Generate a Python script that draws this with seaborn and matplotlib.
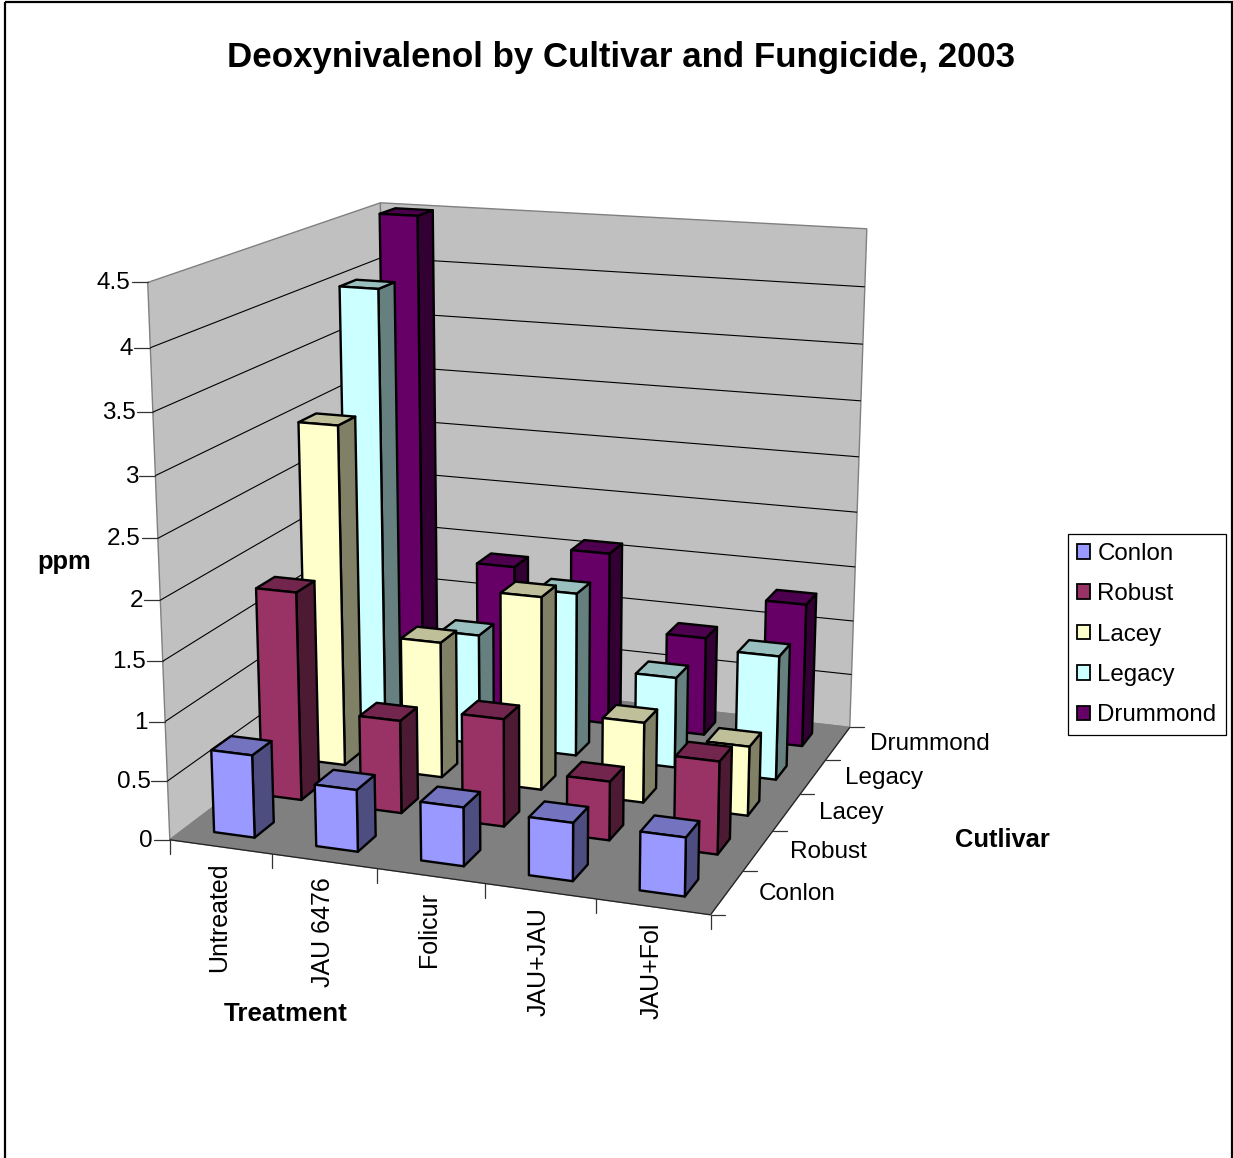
import numpy as np
import matplotlib
matplotlib.use("Agg")
import matplotlib.pyplot as plt
from matplotlib.patches import Polygon, Rectangle
import seaborn as sns

treatments = ["Untreated", "JAU 6476", "Folicur", "JAU+JAU", "JAU+Fol"]
cultivars = ["Conlon", "Robust", "Lacey", "Legacy", "Drummond"]
conlon = [0.70, 0.52, 0.49, 0.48, 0.48]
robust = [1.80, 0.80, 0.92, 0.50, 0.78]
lacey = [3.00, 1.20, 1.69, 0.70, 0.60]
legacy = [4.00, 1.00, 1.47, 0.81, 1.10]
drummond = [4.50, 1.38, 1.59, 0.90, 1.30]
series = [conlon, robust, lacey, legacy, drummond]
colors = ["#9999FF", "#993366", "#FFFFCC", "#CCFFFF", "#660066"]
z_ticks = [0, 0.5, 1, 1.5, 2, 2.5, 3, 3.5, 4, 4.5]
z_max = 4.5

sns.set_theme(style="white", font="Liberation Sans")
palette = sns.color_palette(colors)

W, H = 1233, 1158
fig = plt.figure(figsize=(W / 100, H / 100), dpi=100, facecolor="white")
ax = fig.add_axes([0, 0, 1, 1])
ax.set_xlim(0, W)
ax.set_ylim(H, 0)
ax.axis("off")

# Perspective camera solved from the plot box corners (data space -> canvas).
nx, ny = len(treatments), len(cultivars)
anchors = [
    ((0, 0, 0), (170, 840)),
    ((nx, 0, 0), (710, 915)),
    ((nx, ny, 0), (850, 727)),
    ((nx, ny, z_max), (867, 229)),
    ((0, ny, z_max), (380, 203)),
    ((0, 0, z_max), (148, 282)),
]
rows = []
rhs = []
for (x, y, z), (u, v) in anchors:
    rows.append([x, y, z, 1, 0, 0, 0, 0, -u * x, -u * y, -u * z])
    rows.append([0, 0, 0, 0, x, y, z, 1, -v * x, -v * y, -v * z])
    rhs += [u, v]
cam = np.linalg.lstsq(np.array(rows, float), np.array(rhs, float), rcond=None)[0]
cam = np.append(cam, 1.0).reshape(3, 4)


def project(x, y, z):
    p = cam @ np.array([x, y, z, 1.0])
    return p[0] / p[2], p[1] / p[2]


def quad(points, **kw):
    ax.add_patch(Polygon([project(*p) for p in points], closed=True, **kw))


def seg(a, b, **kw):
    ua, va = project(*a)
    ub, vb = project(*b)
    ax.plot([ua, ub], [va, vb], solid_capstyle="butt", zorder=1, **kw)


# Chart frame
ax.add_patch(Rectangle((5, 2), 1227, 1200, fill=False, ec="black", lw=1.6, zorder=1))

# Walls and floor
wall = dict(fc="#C0C0C0", ec="#808080", lw=1.0, zorder=1)
quad([(0, 0, 0), (0, ny, 0), (0, ny, z_max), (0, 0, z_max)], **wall)
quad([(0, ny, 0), (nx, ny, 0), (nx, ny, z_max), (0, ny, z_max)], **wall)
quad([(0, 0, 0), (nx, 0, 0), (nx, ny, 0), (0, ny, 0)], fc="#808080", ec="#808080", lw=1.0, zorder=1)

# Gridlines on both walls with value ticks on the front edge
for z in z_ticks[1:-1]:
    seg((0, 0, z), (0, ny, z), color="black", lw=0.8)
    seg((0, ny, z), (nx, ny, z), color="black", lw=0.8)
for z in z_ticks:
    u, v = project(0, 0, z)
    ax.plot([u - 16, u], [v, v], color="#333333", lw=0.9, zorder=1)
    ax.text(u - 17, v + 1, f"{z:g}", ha="right", va="center", fontsize=17.5, color="black")

# Category axes along the floor edges
seg((0, 0, 0), (nx, 0, 0), color="#222222", lw=0.9)
seg((nx, 0, 0), (nx, ny, 0), color="#222222", lw=0.9)
for i in range(nx + 1):
    u, v = project(i, 0, 0)
    ax.plot([u, u], [v, v + 14], color="#333333", lw=0.9, zorder=1)
for j in range(ny + 1):
    u, v = project(nx, j, 0)
    ax.plot([u, u + 14], [v, v], color="#333333", lw=0.9, zorder=1)
for i, name in enumerate(treatments):
    u, v = project(i + 0.5, 0, 0)
    ax.text(u - 1.5, v + 16, name, rotation=90, ha="center", va="top", fontsize=18, color="black")
for j, name in enumerate(cultivars):
    u, v = project(nx, j + 0.5, 0)
    ax.text(u + 32, v + 1, name, ha="left", va="center", fontsize=17.5, color="black")

# Bars, painted from the back row forward
gap = 0.30
nudge = -0.012
for j in reversed(range(ny)):
    base = np.array(palette[j])
    y0, y1 = j + gap, j + 1 - gap
    for i in range(nx):
        h = series[j][i]
        x0, x1 = i + gap + nudge, i + 1 - gap + nudge
        edge = dict(ec="black", lw=1.7, joinstyle="round", zorder=3)
        quad([(x1, y0, 0), (x1, y1, 0), (x1, y1, h), (x1, y0, h)], fc=base * 0.5, **edge)
        quad([(x0, y0, h), (x1, y0, h), (x1, y1, h), (x0, y1, h)], fc=base * 0.75, **edge)
        quad([(x0, y0, 0), (x1, y0, 0), (x1, y0, h), (x0, y0, h)], fc=base, **edge)

# Titles
ax.text(621, 58, "Deoxynivalenol by Cultivar and Fungicide, 2003", ha="center", va="center",
        fontsize=25.1, fontweight="bold", color="black")
ax.text(64, 562, "ppm", ha="center", va="center", fontsize=18.4, fontweight="bold", color="black")
ax.text(286, 1014, "Treatment", ha="center", va="center", fontsize=18.6, fontweight="bold", color="black")
ax.text(1002, 840, "Cutlivar", ha="center", va="center", fontsize=18.4, fontweight="bold", color="black")

# Legend
handles = [Rectangle((0, 0), 1, 1, fc=c, ec="black", lw=1.3) for c in palette]
leg = ax.legend(handles, cultivars, loc="upper left", bbox_to_anchor=(1068, 534),
                bbox_transform=ax.transData, borderaxespad=0, fontsize=17.4,
                handlelength=0.55, handleheight=0.55, handletextpad=0.30,
                labelspacing=0.76, borderpad=0.37, fancybox=False, framealpha=1,
                edgecolor="black", labelcolor="black")
leg.get_frame().set_linewidth(0.9)

fig.savefig("out.png", dpi=100)
